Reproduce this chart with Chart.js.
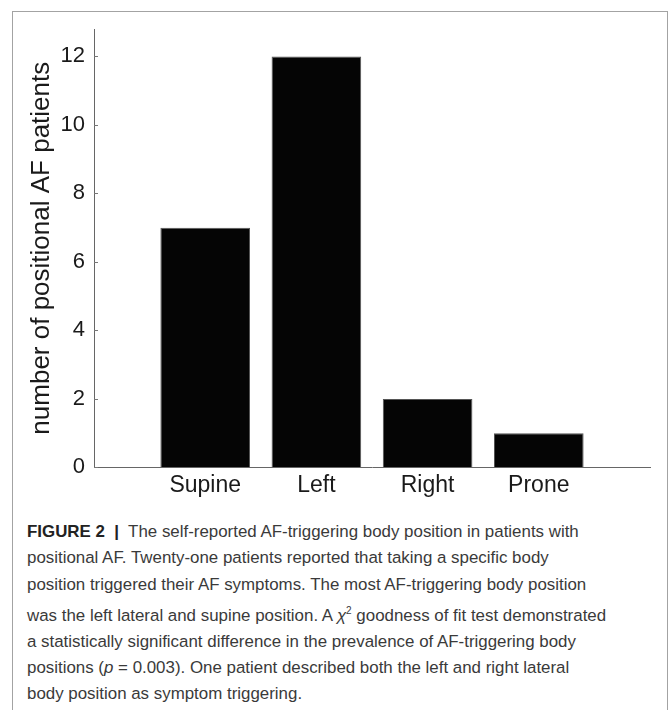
<!DOCTYPE html>
<html>
<head>
<meta charset="utf-8">
<script src="https://cdn.jsdelivr.net/npm/chart.js@4"></script>
<style>
  body { margin: 0; background: #fff; width: 668px; height: 710px; overflow: hidden; position: relative; }
  .frame { position: absolute; left: 12px; top: 11px; width: 654px; height: 720px;
           border: 1.5px solid #a3a3a3; border-bottom: none; }
  .chartBox { position: absolute; left: 0; top: 0; width: 668px; height: 510px; }
  .caption { position: absolute; left: 27px; top: 519px; font-family: "Liberation Sans", Arial, sans-serif;
             font-size: 16.9px; line-height: 26.3px; color: #3a3a3a; white-space: nowrap; }
  .caption b { color: #222; }
</style>
</head>
<body>
<div class="frame"></div>
<div class="chartBox"><canvas id="myChart"></canvas></div>
<div class="caption">
<b>FIGURE 2 &nbsp;|&nbsp;</b> The self-reported AF-triggering body position in patients with<br>
positional AF. Twenty-one patients reported that taking a specific body<br>
position triggered their AF symptoms. The most AF-triggering body position<br>
was the left lateral and supine position. A <i>&chi;</i><sup style="font-size:10px">2</sup> goodness of fit test demonstrated<br>
a statistically significant difference in the prevalence of AF-triggering body<br>
positions (<i>p</i> = 0.003). One patient described both the left and right lateral<br>
body position as symptom triggering.
</div>
<script>
const categories = ['Supine', 'Left', 'Right', 'Prone'];
const patients = [7, 12, 2, 1];
const yTicks = [0, 2, 4, 6, 8, 10, 12];

// small tick marks pointing into the plot, like the original
const innerTicks = {
    id: 'innerTicks',
    afterDraw(chart) {
        const ctx = chart.ctx;
        const y = chart.scales.y;
        ctx.save();
        ctx.strokeStyle = '#777';
        ctx.lineWidth = 1;
        yTicks.forEach(v => {
            const py = Math.round(y.getPixelForValue(v)) + 0.5;
            ctx.beginPath();
            ctx.moveTo(y.right, py);
            ctx.lineTo(y.right + 4, py);
            ctx.stroke();
        });
        ctx.restore();
    }
};

const ctx = document.getElementById('myChart');
new Chart(ctx, {
    type: 'bar',
    data: {
        datasets: [{
            label: 'number of positional AF patients',
            data: patients.map((v, i) => ({ x: i + 1, y: v })),
            backgroundColor: '#050505',
            borderColor: '#555',
            borderWidth: 1,
            barPercentage: 0.806,
            categoryPercentage: 1.0
        }]
    },
    options: {
        responsive: true,
        maintainAspectRatio: false,
        animation: false,
        layout: { padding: { left: 22, top: 29, right: 18, bottom: 7 } },
        plugins: { legend: { display: false }, tooltip: { enabled: false } },
        scales: {
            x: {
                type: 'linear',
                min: 0,
                max: 5,
                offset: false,
                afterBuildTicks: (scale) => { scale.ticks = categories.map((c, i) => ({ value: i + 1 })); },
                grid: { display: true, drawOnChartArea: false, drawTicks: false, offset: false },
                border: { color: '#666', width: 1 },
                ticks: {
                    autoSkip: false,
                    maxRotation: 0,
                    padding: 4,
                    color: '#1a1a1a',
                    font: { family: 'Liberation Sans', size: 23 },
                    callback: (v) => categories[v - 1]
                }
            },
            y: {
                min: 0,
                max: 12.8,
                afterBuildTicks: (scale) => { scale.ticks = yTicks.map(v => ({ value: v })); },
                afterFit: (scale) => { scale.width = 72; },
                grid: { display: true, drawOnChartArea: false, drawTicks: false },
                border: { color: '#666', width: 1 },
                ticks: {
                    padding: 9,
                    color: '#1a1a1a',
                    font: { family: 'Liberation Sans', size: 22 }
                },
                title: {
                    display: true,
                    text: 'number of positional AF patients',
                    color: '#1a1a1a',
                    font: { family: 'Liberation Sans', size: 26 },
                    padding: { top: 4, bottom: 4 }
                }
            }
        }
    },
    plugins: [innerTicks]
});
</script>
</body>
</html>
